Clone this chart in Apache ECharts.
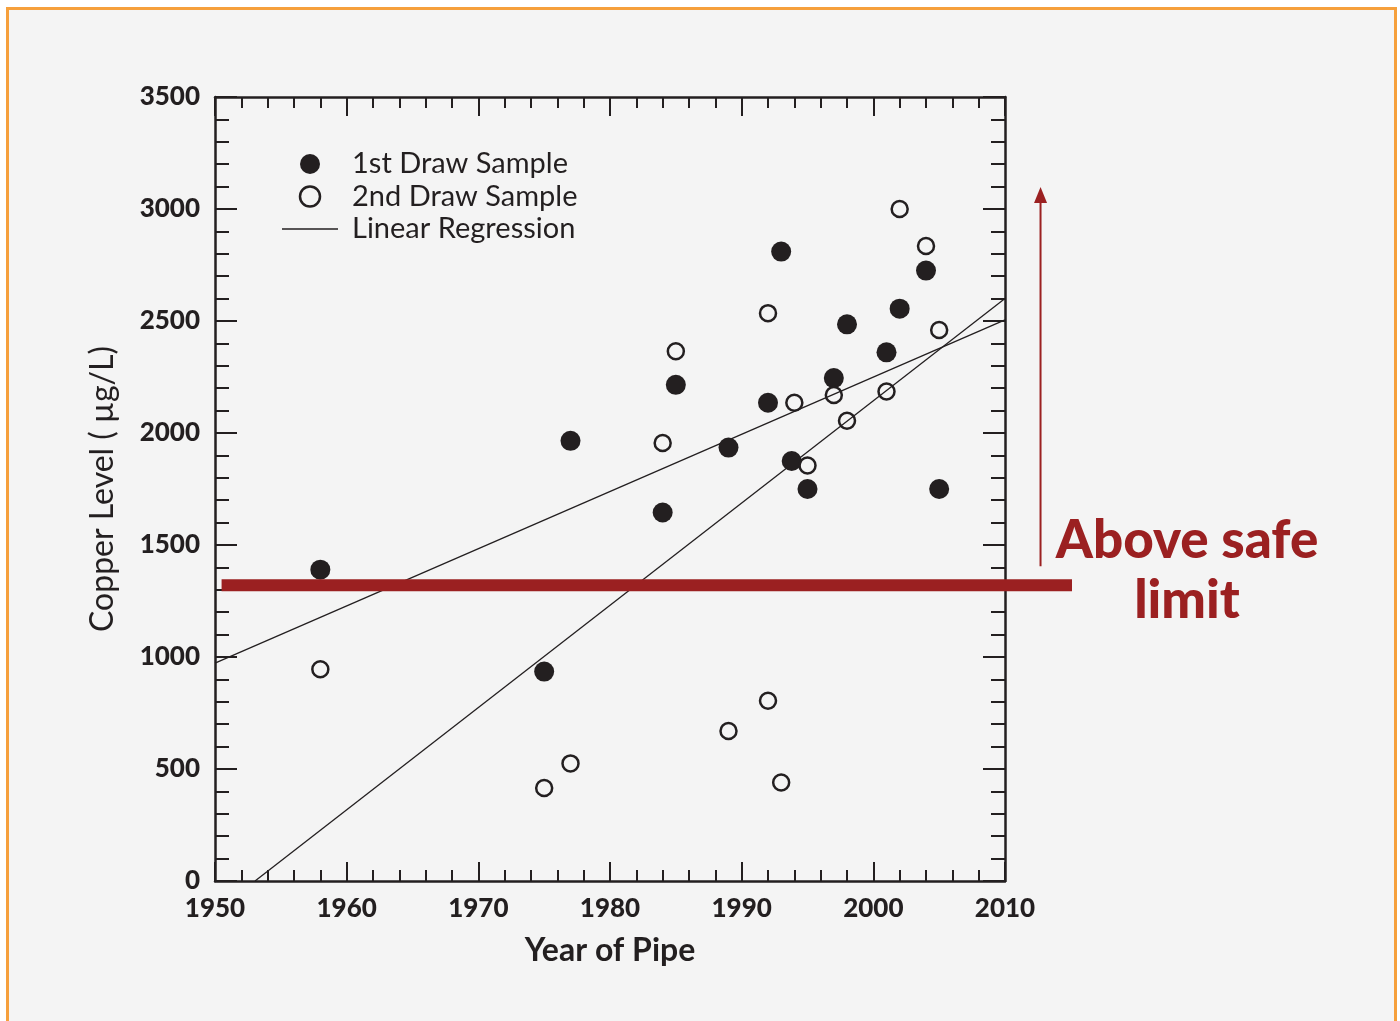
<!DOCTYPE html>
<html>
<head>
<meta charset="utf-8">
<script src="https://cdn.jsdelivr.net/npm/echarts@6/dist/echarts.min.js"></script>
<style>
  html, body { margin: 0; padding: 0; background: #ffffff; }
  #frame { position: absolute; left: 6px; top: 7px; width: 1385px; height: 1030px; border: 3px solid #f6a03c; background: #f4f4f4; }
  #chart { position: absolute; left: 0; top: 0; width: 1400px; height: 1021px; }
</style>
</head>
<body>
<div id="frame"></div>
<div id="chart"></div>
<script>
// ---- data ----
const firstDrawYears  = [1958, 1975, 1977, 1984, 1985, 1989, 1992, 1993, 1993.8, 1995, 1997, 1998, 2001, 2002, 2004, 2005];
const firstDrawValues = [1390,  935, 1965, 1645, 2215, 1935, 2135, 2810, 1875,   1750, 2245, 2485, 2360, 2555, 2725, 1750];

const secondDrawYears  = [1958, 1975, 1977, 1984, 1985, 1989, 1992, 1992, 1993, 1994, 1995, 1997, 1998, 2001, 2002, 2004, 2005];
const secondDrawValues = [ 945,  415,  525, 1955, 2365,  670, 2535,  805,  440, 2135, 1855, 2170, 2055, 2185, 3000, 2835, 2460];

const regressionA = [[1950, 973], [2010, 2505]];
const regressionB = [[1953.04, 0], [2010, 2600]];

const safeLimit = 1320;
const safeLineYears = [1950.5, 2015.09];
const arrowYear = 2012.7;
const arrowRange = [1405, 3062];

const xTicks = { min: 1950, max: 2010, interval: 10 };
const yTicks = { min: 0, max: 3500, interval: 500 };

const seriesNames = ['1st Draw Sample', '2nd Draw Sample', 'Linear Regression'];
const xTitle = 'Year of Pipe';
const yTitle = 'Copper Level ( µg/L)';
const noteText = 'Above safe\nlimit';

// ---- build ----
const ink = '#231f20';
const red = '#9b2021';
const zip = (a, b) => a.map((v, i) => [v, b[i]]);

function axisCommon(showLabel, tickLen, minorLen, margin) {
  return {
    axisLine: { show: true, onZero: false, lineStyle: { color: ink, width: 2.5 } },
    axisTick: { show: true, inside: true, length: tickLen, lineStyle: { color: ink, width: 2 } },
    minorTick: { show: true, splitNumber: 5, length: minorLen, lineStyle: { color: ink, width: 2 } },
    splitLine: { show: false },
    axisLabel: {
      show: showLabel, color: ink, fontFamily: 'Lato', fontWeight: 900, fontSize: 26, margin: margin,
      formatter: v => String(v)
    }
  };
}

const chart = echarts.init(document.getElementById('chart'), null, { renderer: 'canvas' });

const option = {
  backgroundColor: 'transparent',
  animation: false,
  grid: [
    { left: 215, right: 395, top: 97, bottom: 140 },
    { left: 215, right: 328, top: 97, bottom: 140 }
  ],
  xAxis: [
    Object.assign({ type: 'value', gridIndex: 0, position: 'bottom', min: xTicks.min, max: xTicks.max, interval: xTicks.interval,
      name: xTitle, nameLocation: 'middle', nameGap: 54,
      nameTextStyle: { color: ink, fontFamily: 'Lato', fontWeight: 'bold', fontSize: 32 } },
      axisCommon(true, 19, 11, 15)),
    Object.assign({ type: 'value', gridIndex: 0, position: 'top', min: xTicks.min, max: xTicks.max, interval: xTicks.interval },
      axisCommon(false, 19, 11, 15)),
    { type: 'value', gridIndex: 1, min: xTicks.min, max: safeLineYears[1], show: false }
  ],
  yAxis: [
    Object.assign({ type: 'value', gridIndex: 0, position: 'left', min: yTicks.min, max: yTicks.max, interval: yTicks.interval,
      name: yTitle, nameLocation: 'middle', nameGap: 96, nameRotate: 90,
      nameTextStyle: { color: ink, fontFamily: 'Lato', fontWeight: 'normal', fontSize: 32 } },
      axisCommon(true, 22, 14, 15)),
    Object.assign({ type: 'value', gridIndex: 0, position: 'right', min: yTicks.min, max: yTicks.max, interval: yTicks.interval },
      axisCommon(false, 22, 14, 15)),
    { type: 'value', gridIndex: 1, min: yTicks.min, max: yTicks.max, show: false }
  ],
  legend: {
    orient: 'vertical', left: 277, top: 144,
    itemWidth: 56, itemHeight: 20, itemGap: 2.5,
    symbolKeepAspect: true,
    data: [
      { name: seriesNames[0], icon: 'circle', itemStyle: { color: ink, borderWidth: 0 } },
      { name: seriesNames[1], icon: 'circle', itemStyle: { color: 'transparent', borderColor: ink, borderWidth: 2.5 } },
      { name: seriesNames[2], icon: 'path://M0,0H56V1.3H0Z', itemStyle: { color: ink, borderWidth: 0 } }
    ],
    textStyle: { color: ink, fontFamily: 'Lato', fontSize: 29, lineHeight: 30, padding: [0, 0, 0, 9] },
    selectedMode: false
  },
  series: [
    {
      name: seriesNames[2], type: 'line', xAxisIndex: 0, yAxisIndex: 0, data: regressionA,
      symbol: 'none', lineStyle: { color: ink, width: 1.3 }, itemStyle: { color: ink }, z: 2, silent: true
    },
    {
      name: seriesNames[2], type: 'line', xAxisIndex: 0, yAxisIndex: 0, data: regressionB,
      symbol: 'none', lineStyle: { color: ink, width: 1.3 }, itemStyle: { color: ink }, z: 2, silent: true
    },
    {
      name: seriesNames[0], type: 'scatter', xAxisIndex: 0, yAxisIndex: 0,
      data: zip(firstDrawYears, firstDrawValues),
      symbol: 'circle', symbolSize: 20, itemStyle: { color: ink, opacity: 1 }, z: 4
    },
    {
      name: seriesNames[1], type: 'scatter', xAxisIndex: 0, yAxisIndex: 0,
      data: zip(secondDrawYears, secondDrawValues),
      symbol: 'circle', symbolSize: 16, itemStyle: { color: 'transparent', borderColor: ink, borderWidth: 2.5, opacity: 1 }, z: 4
    },
    {
      name: 'safe', type: 'line', xAxisIndex: 2, yAxisIndex: 2,
      data: safeLineYears.map(x => [x, safeLimit]),
      symbol: 'none', lineStyle: { color: red, width: 12, cap: 'butt' }, z: 6, silent: true
    },
    {
      name: 'arrow', type: 'line', xAxisIndex: 2, yAxisIndex: 2,
      data: [
        { value: [arrowYear, arrowRange[0]], symbol: 'none' },
        { value: [arrowYear, arrowRange[1]], symbol: 'triangle', symbolSize: [13, 16] }
      ],
      showSymbol: true, lineStyle: { color: red, width: 2 }, itemStyle: { color: red }, z: 6, silent: true
    }
  ],
  graphic: [
    {
      type: 'text', left: 1187 - 150, top: 511, z: 10,
      style: {
        text: noteText, fill: red, font: '900 53px Lato', lineHeight: 60,
        textAlign: 'center', width: 300
      }
    }
  ]
};
chart.setOption(option);
</script>
</body>
</html>
